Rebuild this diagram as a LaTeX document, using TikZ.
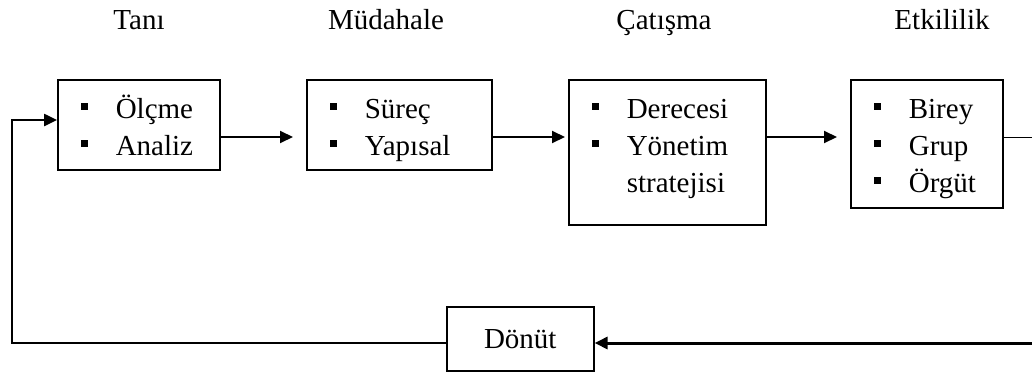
\documentclass[tikz,border=0pt]{standalone}
\usepackage{fontspec}
\setmainfont{Liberation Serif}
\usetikzlibrary{arrows.meta}

\newcommand\stagebullet{\hspace*{23pt}\makebox[35pt][l]{\rule[8pt]{7.5pt}{7.5pt}}}
\newcommand\stageindent{\hspace*{58pt}}
\newcommand\stagelist[3]{\parbox[c][#2][t]{#1}{\rule{0pt}{38.5pt}#3}}

\begin{document}
\begin{tikzpicture}[x=1pt,y=-1pt,
      title/.style={font=\fontsize{29}{37}\selectfont, anchor=base},
      stage/.style={draw, line width=1.6pt, anchor=north west,
        inner sep=0pt, font=\fontsize{29}{37}\selectfont},
      flow/.style={line width=2pt, -{Triangle[length=13pt,width=12pt]}}]
      \clip (0,0) rectangle (1032,372);

      % stage titles
      \node[title] (tTani) at (139,29) {Tanı};
      \node[title] (tMud) at (386,29) {Müdahale};
      \node[title] (tCat) at (664,29) {Çatışma};
      \node[title] (tEtk) at (942,29) {Etkililik};

      % stage boxes
      \node[stage] (tani) at (57,79)
        {\stagelist{162pt}{90pt}{\stagebullet Ölçme\\ \stagebullet Analiz}};
      \node[stage] (mud) at (306,79)
        {\stagelist{185pt}{90pt}{\stagebullet Süreç\\ \stagebullet Yapısal}};
      \node[stage] (cat) at (568,79)
        {\stagelist{197pt}{145pt}{\stagebullet Derecesi\\
          \stagebullet Yönetim\\ \stageindent stratejisi}};
      \node[stage] (etk) at (850,79)
        {\stagelist{152pt}{128pt}{\stagebullet Birey\\
          \stagebullet Grup\\ \stagebullet Örgüt}};
      \node[stage, minimum width=147pt, minimum height=64pt] (donut) at (446,306)
        {Dönüt};

      \coordinate (lvl) at (0,137);
      \coordinate (inlvl) at (0,120);
      \coordinate (fb) at (0,343);
      \coordinate (lft) at (12,343);
      \coordinate (rgt) at (1045,137);

      \draw[flow, shorten >=13pt] (tani.east |- lvl) -- (mud.west |- lvl);
      \draw[flow, shorten >=3pt] (mud.east |- lvl) -- (cat.west |- lvl);
      \draw[flow, shorten >=13pt] (cat.east |- lvl) -- (etk.west |- lvl);

      % feedback loop
      \draw[line width=1pt] (etk.east |- lvl) -- (rgt) -- (rgt |- fb);
      \draw[flow, line width=3pt] (rgt |- fb) -- (donut.east |- fb);
      \draw[flow, line width=2.5pt] (donut.west |- fb) -- (lft)
        -- (lft |- inlvl) -- (tani.west |- inlvl);
    \end{tikzpicture}
\end{document}
